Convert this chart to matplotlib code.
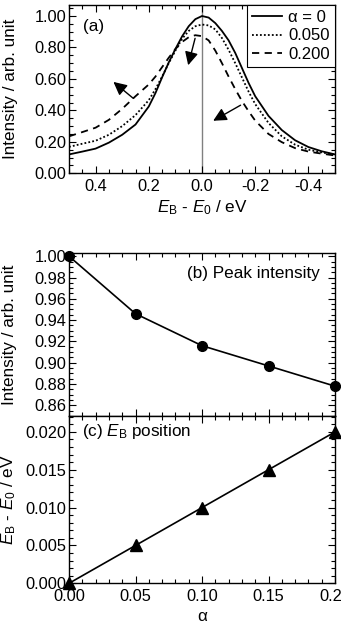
import matplotlib
matplotlib.use('Agg')
import matplotlib.pyplot as plt
from matplotlib.ticker import MultipleLocator, FormatStrFormatter

plt.rcParams['font.family'] = ['Liberation Sans', 'DejaVu Sans']
plt.rcParams['font.size'] = 12.3
plt.rcParams['xtick.labelsize'] = 11.8
plt.rcParams['ytick.labelsize'] = 11.8
plt.rcParams['mathtext.fontset'] = 'custom'
plt.rcParams['mathtext.rm'] = 'Liberation Sans'
plt.rcParams['mathtext.it'] = 'Liberation Sans:italic'
plt.rcParams['axes.unicode_minus'] = False

# ---------------- data ----------------
energy = [0.50, 0.45, 0.40, 0.35, 0.30, 0.25, 0.20, 0.175, 0.15, 0.125, 0.10, 0.075, 0.05, 0.025, 0.0,
          -0.025, -0.05, -0.075, -0.10, -0.125, -0.15, -0.175, -0.20, -0.25, -0.30, -0.35, -0.40, -0.45, -0.50]
int_alpha0 = [0.120, 0.138, 0.157, 0.195, 0.245, 0.310, 0.425, 0.510, 0.610, 0.705, 0.790, 0.870, 0.935, 0.980, 1.000,
              0.990, 0.955, 0.905, 0.845, 0.765, 0.670, 0.575, 0.490, 0.365, 0.275, 0.210, 0.167, 0.140, 0.120]
int_alpha005 = [0.168, 0.188, 0.207, 0.245, 0.300, 0.370, 0.465, 0.535, 0.615, 0.700, 0.780, 0.855, 0.905, 0.935, 0.946,
                0.940, 0.915, 0.860, 0.785, 0.700, 0.610, 0.520, 0.440, 0.320, 0.235, 0.182, 0.150, 0.133, 0.118]
int_alpha02 = [0.235, 0.262, 0.290, 0.340, 0.410, 0.490, 0.565, 0.615, 0.675, 0.735, 0.790, 0.835, 0.865, 0.878, 0.872,
               0.845, 0.780, 0.700, 0.615, 0.535, 0.460, 0.395, 0.335, 0.250, 0.198, 0.160, 0.138, 0.125, 0.113]
legend_labels = ['\u03b1 = 0', '0.050', '0.200']

alpha = [0.00, 0.05, 0.10, 0.15, 0.20]
peak_intensity = [1.000, 0.946, 0.916, 0.897, 0.878]
eb_position = [0.000, 0.005, 0.010, 0.015, 0.020]

# ---------------- figure ----------------
W, H = 341, 623
fig = plt.figure(figsize=(W / 100, H / 100), dpi=100)


def rect(l, t, r, b):
    return [l / W, 1 - b / H, (r - l) / W, (b - t) / H]


def style(ax):
    ax.tick_params(which='both', direction='in', top=True, right=True, width=0.8)
    ax.tick_params(axis='y', which='both', pad=2)
    ax.tick_params(axis='x', which='both', pad=4)
    ax.tick_params(which='major', length=5)
    ax.tick_params(which='minor', length=3)
    for s in ax.spines.values():
        s.set_linewidth(1.0)


axa = fig.add_axes(rect(69, 5, 335, 173.3))
axb = fig.add_axes(rect(69, 253, 335, 416))
axc = fig.add_axes(rect(69, 416, 335, 583.3))

# ---- panel (a) ----
axa.axvline(0, color='#808080', lw=1.0, zorder=1)
axa.plot(energy, int_alpha0, color='black', lw=1.3, ls='-', label=legend_labels[0])
axa.plot(energy, int_alpha005, color='black', lw=1.3, ls=(0, (1, 1.2)), label=legend_labels[1])
axa.plot(energy, int_alpha02, color='black', lw=1.3, ls=(0, (4, 3)), label=legend_labels[2])
axa.set_xlim(0.5, -0.5)
axa.set_ylim(0, 1.07)
axa.xaxis.set_major_locator(MultipleLocator(0.2))
axa.xaxis.set_minor_locator(MultipleLocator(0.05))
axa.xaxis.set_major_formatter(FormatStrFormatter('%.1f'))
axa.yaxis.set_major_locator(MultipleLocator(0.2))
axa.yaxis.set_minor_locator(MultipleLocator(0.05))
axa.yaxis.set_major_formatter(FormatStrFormatter('%.2f'))
style(axa)
axa.set_xlabel(r'$E_\mathrm{B}$ - $E_0$ / eV', labelpad=3)
axa.set_ylabel('Intensity / arb. unit')
axa.yaxis.set_label_coords(-0.19, 0.5)
axa.text(0.052, 0.875, '(a)', transform=axa.transAxes, ha='left', va='center')
leg = axa.legend(loc='upper right', borderaxespad=0, fancybox=False, edgecolor='black',
                 framealpha=1, handlelength=1.8, labelspacing=0.2, handletextpad=0.4,
                 borderpad=0.3, fontsize=12)
leg.get_frame().set_linewidth(0.8)

arrow = dict(arrowstyle='-|>', color='black', lw=1.0, mutation_scale=20, shrinkA=0, shrinkB=0)
axa.annotate('', xy=(0.052, 0.687), xytext=(0.026, 0.858), arrowprops=arrow)
axa.annotate('', xy=(0.333, 0.581), xytext=(0.258, 0.476), arrowprops=arrow)
axa.annotate('', xy=(-0.042, 0.334), xytext=(-0.145, 0.433), arrowprops=arrow)

# ---- panel (b) ----
axb.plot(alpha, peak_intensity, color='black', lw=1.2, marker='o', ms=7, clip_on=False, zorder=3)
axb.set_xlim(0, 0.2)
axb.set_ylim(0.85, 1.003)
axb.xaxis.set_major_locator(MultipleLocator(0.05))
axb.xaxis.set_minor_locator(MultipleLocator(0.01))
axb.yaxis.set_major_locator(MultipleLocator(0.02))
axb.yaxis.set_minor_locator(MultipleLocator(0.005))
axb.yaxis.set_major_formatter(FormatStrFormatter('%.2f'))
style(axb)
axb.tick_params(labelbottom=False)
axb.set_ylabel('Intensity / arb. unit')
axb.yaxis.set_label_coords(-0.195, 0.5)
axb.text(0.945, 0.875, '(b) Peak intensity', transform=axb.transAxes, ha='right', va='center')

# ---- panel (c) ----
axc.plot(alpha, eb_position, color='black', lw=1.2, marker='^', ms=8, clip_on=False, zorder=3)
axc.set_xlim(0, 0.2)
axc.set_ylim(0, 0.0221)
axc.xaxis.set_major_locator(MultipleLocator(0.05))
axc.xaxis.set_minor_locator(MultipleLocator(0.01))
axc.xaxis.set_major_formatter(FormatStrFormatter('%.2f'))
axc.yaxis.set_major_locator(MultipleLocator(0.005))
axc.yaxis.set_minor_locator(MultipleLocator(0.001))
axc.yaxis.set_major_formatter(FormatStrFormatter('%.3f'))
style(axc)
axc.set_xlabel('\u03b1', labelpad=4)
axc.set_ylabel(r'$E_\mathrm{B}$ - $E_0$ / eV')
axc.yaxis.set_label_coords(-0.19, 0.5)
axc.text(0.048, 0.905, r'(c) $E_\mathrm{B}$ position', transform=axc.transAxes, ha='left', va='center')

fig.savefig('out.png', dpi=100)
